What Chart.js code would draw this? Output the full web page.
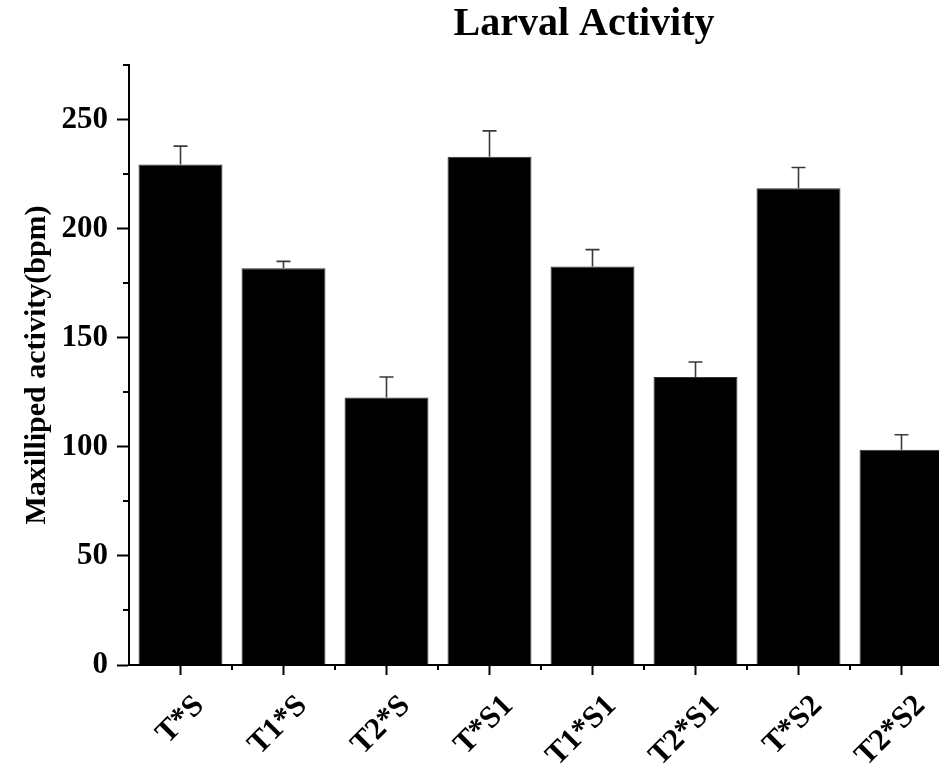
<!DOCTYPE html>
<html><head><meta charset="utf-8">
<script src="https://cdn.jsdelivr.net/npm/chart.js@4.4.1/dist/chart.umd.min.js"></script>
<style>
html,body{margin:0;padding:0;background:#fff;overflow:hidden;width:939px;height:768px}
#wrap{width:1168px;height:768px;position:relative}
</style></head>
<body><div id="wrap"><canvas id="c" width="1168" height="768"></canvas></div>
<script>
const categories = ['T*S','T1*S','T2*S','T*S1','T1*S1','T2*S1','T*S2','T2*S2'];
const activity = [229.4, 181.8, 122.6, 232.9, 182.7, 132.0, 218.5, 98.6];
const errorUpper = [8.4, 3.2, 9.4, 11.9, 7.7, 6.9, 9.5, 6.9];
const yMajorTicks = [0, 50, 100, 150, 200, 250];
const yMinorTicks = [25, 75, 125, 175, 225, 275];
const yMax = 275;

const FAM = "'Liberation Serif','Times New Roman',serif";

const extrasPlugin = {
  id: 'extras',
  afterDatasetsDraw(chart) {
    const ctx = chart.ctx;
    const ys = chart.scales.y, xs = chart.scales.x;
    const meta = chart.getDatasetMeta(0);
    ctx.save();
    ctx.strokeStyle = '#3a3a3a';
    ctx.lineWidth = 1.6;
    meta.data.forEach((bar, i) => {
      const v = activity[i];
      const yTop = ys.getPixelForValue(v + errorUpper[i]);
      const yBar = ys.getPixelForValue(v);
      ctx.beginPath();
      ctx.moveTo(bar.x, yBar);
      ctx.lineTo(bar.x, yTop);
      ctx.moveTo(bar.x - 7, yTop);
      ctx.lineTo(bar.x + 7, yTop);
      ctx.stroke();
    });
    ctx.strokeStyle = '#000';
    ctx.lineWidth = 2;
    const left = chart.chartArea.left, bottom = chart.chartArea.bottom;
    yMinorTicks.forEach(v => {
      const y = Math.round(ys.getPixelForValue(v));
      ctx.beginPath();
      ctx.moveTo(left - 6, y);
      ctx.lineTo(left, y);
      ctx.stroke();
    });
    for (let i = 0; i < categories.length; i++) {
      const x = Math.round(xs.getPixelForValue(i + 0.5));
      ctx.beginPath();
      ctx.moveTo(x, bottom);
      ctx.lineTo(x, bottom + 5);
      ctx.stroke();
    }
    ctx.restore();
  }
};

new Chart(document.getElementById('c'), {
  type: 'bar',
  data: {
    labels: categories,
    datasets: [{
      data: activity,
      backgroundColor: '#000',
      borderColor: '#333',
      borderWidth: 1,
      categoryPercentage: 1.0,
      barPercentage: 0.815,
      yAxisID: 'y'
    }]
  },
  options: {
    responsive: false,
    animation: false,
    devicePixelRatio: 1,
    layout: { padding: 0 },
    plugins: {
      legend: { display: false },
      tooltip: { enabled: false },
      title: {
        display: true,
        text: 'Larval Activity',
        color: '#000',
        font: { family: FAM, size: 40, weight: 'bold' },
        padding: { top: 1, bottom: 16 }
      }
    },
    scales: {
      x: {
        offset: true,
        grid: { display: true, drawOnChartArea: false, offset: false, tickLength: 10, tickWidth: 2, tickColor: '#000' },
        border: { display: true, color: '#000', width: 2 },
        ticks: {
          color: '#000',
          font: { family: FAM, size: 31, weight: 'bold' },
          minRotation: 45, maxRotation: 45, autoSkip: false,
          padding: 13, labelOffset: 19
        },
        afterFit(scale) { scale.height = 103; }
      },
      y: {
        min: 0, max: yMax,
        afterBuildTicks(scale) { scale.ticks = yMajorTicks.map(v => ({ value: v })); },
        grid: { display: true, drawOnChartArea: false, tickLength: 12, tickWidth: 2, tickColor: '#000' },
        border: { display: true, color: '#000', width: 2 },
        ticks: {
          color: '#000',
          font: { family: FAM, size: 31, weight: 'bold' },
          padding: 9
        },
        title: {
          display: true,
          text: 'Maxilliped activity(bpm)',
          color: '#000',
          font: { family: FAM, size: 30, weight: 'bold' },
          padding: { top: 19, bottom: 0 }
        },
        afterFit(scale) { scale.width = 129; }
      },
      spacer: {
        type: 'linear',
        position: 'right',
        display: true,
        grid: { display: false, drawTicks: false },
        border: { display: false },
        ticks: { display: false },
        afterFit(scale) { scale.width = 215; }
      }
    }
  },
  plugins: [extrasPlugin]
});
</script>
</body></html>
